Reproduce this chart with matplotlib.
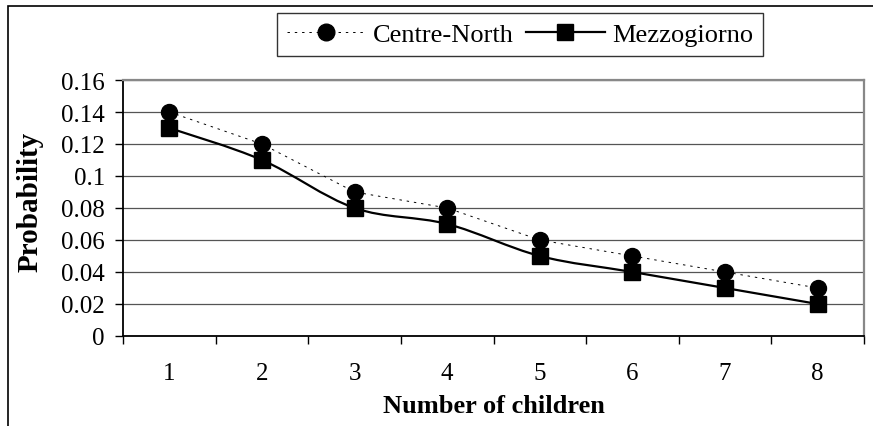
import numpy as np
import matplotlib.pyplot as plt
from matplotlib.path import Path
from matplotlib.patches import PathPatch, Rectangle
from matplotlib.lines import Line2D

plt.rcParams['font.family'] = 'Liberation Serif'

# data
children = [1, 2, 3, 4, 5, 6, 7, 8]
centre_north = [0.14, 0.12, 0.09, 0.08, 0.06, 0.05, 0.04, 0.03]
mezzogiorno = [0.13, 0.11, 0.08, 0.07, 0.05, 0.04, 0.03, 0.02]
y_ticks = [0, 0.02, 0.04, 0.06, 0.08, 0.1, 0.12, 0.14, 0.16]
y_tick_labels = ['0', '0.02', '0.04', '0.06', '0.08', '0.1', '0.12', '0.14', '0.16']


def smooth_path(xs, ys):
    # Excel style smoothed line: bezier segments with catmull-rom control points
    xs = np.asarray(xs, float)
    ys = np.asarray(ys, float)
    verts = [(xs[0], ys[0])]
    codes = [Path.MOVETO]
    n = len(xs)
    for i in range(n - 1):
        x0, y0 = (xs[i - 1], ys[i - 1]) if i > 0 else (xs[i], ys[i])
        x3, y3 = (xs[i + 2], ys[i + 2]) if i + 2 < n else (xs[i + 1], ys[i + 1])
        c1 = (xs[i] + (xs[i + 1] - x0) / 6, ys[i] + (ys[i + 1] - y0) / 6)
        c2 = (xs[i + 1] - (x3 - xs[i]) / 6, ys[i + 1] - (y3 - ys[i]) / 6)
        verts += [c1, c2, (xs[i + 1], ys[i + 1])]
        codes += [Path.CURVE4] * 3
    return Path(verts, codes)


fig = plt.figure(figsize=(8.73, 4.27), dpi=100)
ax = fig.add_axes([0.1409, 0.2108, 0.8488, 0.5995])

# outer chart frame (cut off at right and bottom)
fig.patches.append(Rectangle((8 / 873, -0.1), 1.2, 1 - 7 / 427 + 0.1,
                             transform=fig.transFigure, fill=False,
                             edgecolor='black', linewidth=1.2))

ax.set_xlim(0.5, 8.5)
ax.set_ylim(0, 0.16)
ax.yaxis.grid(True, color='#555555', linewidth=0.9)
ax.set_axisbelow(True)

ax.plot(children, centre_north, color='black', linestyle=(0, (2.5, 5)),
        linewidth=0.7, marker='o', markersize=11.5, markerfacecolor='black',
        zorder=3)
ax.add_patch(PathPatch(smooth_path(children, mezzogiorno), fill=False,
                       edgecolor='black', linewidth=1.6, zorder=3))
ax.plot(children, mezzogiorno, linestyle='none', marker='s', markersize=11.5,
        color='black', zorder=4)

ax.set_yticks(y_ticks)
ax.set_yticklabels(y_tick_labels)
ax.tick_params(axis='y', direction='out', length=6, width=1, labelsize=18, pad=7)

ax.set_xticks(np.arange(0.5, 9, 1))
ax.set_xticklabels([])
ax.set_xticks(children, minor=True)
ax.set_xticklabels([str(c) for c in children], minor=True)
ax.tick_params(axis='x', which='major', direction='out', length=6, width=1)
ax.tick_params(axis='x', which='minor', length=0, labelsize=18, pad=19)

for side in ['left', 'bottom']:
    ax.spines[side].set_color('black')
    ax.spines[side].set_linewidth(1.3)
for side in ['top', 'right']:
    ax.spines[side].set_color('#888888')
    ax.spines[side].set_linewidth(1.6)

ax.set_xlabel('Number of children', fontsize=19, fontweight='bold', labelpad=7)
ax.set_ylabel('Probability', fontsize=21, fontweight='bold')
ax.yaxis.set_label_coords(-0.107, 0.527)

handles = [
    Line2D([], [], color='black', linestyle=(0, (2.5, 5)), linewidth=0.7,
           marker='o', markersize=12),
    Line2D([], [], color='black', linestyle='-', linewidth=1.6,
           marker='s', markersize=12),
]
leg = fig.legend(handles, ['Centre-North', 'Mezzogiorno'], ncol=2,
                 loc='upper left', bbox_to_anchor=(277 / 873, 1 - 14 / 427),
                 fontsize=19, frameon=True, fancybox=False, edgecolor='black',
                 handlelength=3.0, handletextpad=0.27, columnspacing=0.45,
                 borderpad=0.37, borderaxespad=0)
leg.get_frame().set_linewidth(1.0)

fig.savefig('out.png', dpi=100)
